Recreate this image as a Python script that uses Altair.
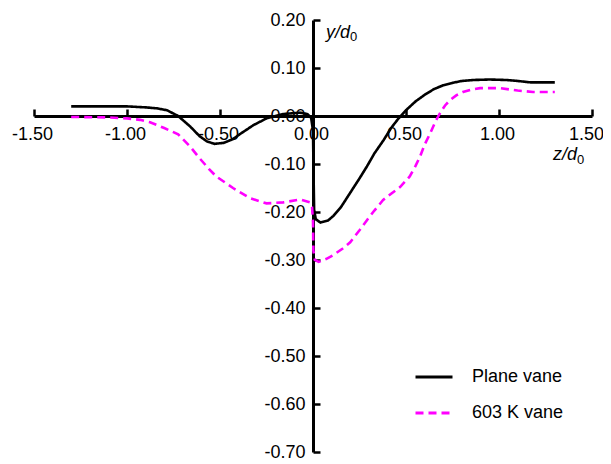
import altair as alt
import pandas as pd

series_names = ["Plane vane", "603 K vane"]

plane_z = [-1.30, -1.10, -1.00, -0.90, -0.84, -0.785, -0.725, -0.66, -0.61, -0.57, -0.53, -0.48, -0.43,
           -0.39, -0.32, -0.25, -0.16, -0.07, -0.03, -0.01, 0.0, 0.003, 0.006, 0.015, 0.04, 0.08, 0.11,
           0.15, 0.20, 0.25, 0.29, 0.33, 0.38, 0.42, 0.46, 0.50, 0.55, 0.60, 0.65, 0.70, 0.75, 0.80,
           0.86, 0.95, 1.04, 1.10, 1.17, 1.24, 1.30]
plane_y = [0.020, 0.020, 0.020, 0.018, 0.016, 0.012, 0.000, -0.022, -0.042, -0.053, -0.058, -0.056, -0.048,
           -0.037, -0.019, -0.005, 0.004, 0.007, 0.004, -0.004, -0.030, -0.120, -0.195, -0.215, -0.222, -0.218, -0.208,
           -0.190, -0.160, -0.130, -0.105, -0.078, -0.050, -0.025, -0.005, 0.012, 0.030, 0.044, 0.056, 0.064, 0.069, 0.073,
           0.075, 0.076, 0.075, 0.073, 0.070, 0.070, 0.070]

k603_z = [-1.30, -1.10, -1.00, -0.93, -0.876, -0.80, -0.725, -0.66, -0.61, -0.56, -0.52, -0.43, -0.34, -0.25,
          -0.16, -0.07, -0.016, -0.005, 0.0, 0.002, 0.01, 0.03, 0.07, 0.108, 0.16, 0.20, 0.25, 0.29, 0.33,
          0.377, 0.42, 0.468, 0.52, 0.55, 0.575, 0.60, 0.63, 0.66, 0.683, 0.71, 0.737, 0.77, 0.806, 0.85,
          0.898, 1.005, 1.10, 1.183, 1.30]
k603_y = [-0.002, -0.003, -0.005, -0.008, -0.013, -0.025, -0.038, -0.064, -0.088, -0.110, -0.126, -0.150, -0.171, -0.182,
          -0.180, -0.174, -0.180, -0.190, -0.220, -0.280, -0.300, -0.304, -0.298, -0.290, -0.276, -0.263, -0.238, -0.217, -0.197,
          -0.175, -0.162, -0.148, -0.126, -0.105, -0.085, -0.060, -0.036, -0.010, 0.006, 0.022, 0.033, 0.043, 0.050, 0.055,
          0.058, 0.058, 0.053, 0.050, 0.050]

x_ticks = [-1.5, -1.0, -0.5, 0.0, 0.5, 1.0, 1.5]
y_ticks = [-0.7, -0.6, -0.5, -0.4, -0.3, -0.2, -0.1, 0.0, 0.1, 0.2]

rows = []
for name, zs, ys in [(series_names[0], plane_z, plane_y), (series_names[1], k603_z, k603_y)]:
    for i, (z, y) in enumerate(zip(zs, ys)):
        rows.append({"series": name, "z": z, "y": y, "i": i})
df = pd.DataFrame(rows)

# axis title annotations (main italic part and subscript)
titles_main = pd.DataFrame({"text": ["y/d", "z/d"], "z": [0.07, 1.29], "y": [0.1625, -0.092]})
titles_sub = pd.DataFrame({"text": ["0", "0"], "z": [0.199, 1.42], "y": [0.156, -0.100]})

FONT = "Liberation Sans"
W, H = 558, 432
xdom = [-1.5, 1.5]
ydom = [-0.7, 0.2]
x0_px = W * (0 - xdom[0]) / (xdom[1] - xdom[0])          # pixel of z=0
y0_px = H * (ydom[1] - 0) / (ydom[1] - ydom[0])          # pixel of y=0

xscale = alt.Scale(domain=xdom, nice=False, zero=False)
yscale = alt.Scale(domain=ydom, nice=False, zero=False)
label_expr = "replace(format(datum.value, '.2f'), '−', '-')"

legend_opts = dict(title=None, orient="none", legendX=380, legendY=337, symbolType="stroke",
                   symbolSize=1369, symbolStrokeWidth=3, labelFontSize=18, labelFont=FONT,
                   labelColor="black", labelOffset=18, rowPadding=7, padding=0)

lines = alt.Chart(df).mark_line(strokeWidth=2.6).encode(
    x=alt.X("z:Q", scale=xscale, title="",
            axis=alt.Axis(orient="bottom", values=x_ticks, labelExpr=label_expr, domain=False, ticks=False,
                          grid=False, offset=-(H - y0_px), labelPadding=9, labelFontSize=18, labelFont=FONT,
                          labelColor="black", labelFlush=False, labelOverlap=False,
                          labelOffset=alt.condition("datum.value >= 1.4", alt.value(-6), alt.value(-2)))),
    y=alt.Y("y:Q", scale=yscale, title="",
            axis=alt.Axis(orient="left", values=y_ticks, labelExpr=label_expr, domain=False, ticks=False,
                          grid=False, offset=-x0_px, labelPadding=8, labelFontSize=18, labelFont=FONT,
                          labelColor="black", labelOverlap=False, labelFlush=False)),
    color=alt.Color("series:N", scale=alt.Scale(domain=series_names, range=["#000000", "#ff00ff"]),
                    legend=alt.Legend(**legend_opts)),
    strokeDash=alt.StrokeDash("series:N", scale=alt.Scale(domain=series_names, range=[[1, 0], [8, 5]]),
                              legend=alt.Legend(**legend_opts)),
    order=alt.Order("i:Q"),
)

title_main = alt.Chart(titles_main).mark_text(
    font=FONT, fontSize=18, fontStyle="italic", align="left", baseline="alphabetic", color="black"
).encode(
    x=alt.X("z:Q", scale=xscale, title="",
            axis=alt.Axis(orient="top", values=x_ticks, labels=False, ticks=True, tickSize=7, tickWidth=2.5,
                          tickColor="black", domain=True, domainWidth=3, domainColor="black", grid=False,
                          offset=-y0_px)),
    y=alt.Y("y:Q", scale=yscale, title="",
            axis=alt.Axis(orient="right", values=y_ticks, labels=False, ticks=True, tickSize=7, tickWidth=2.5,
                          tickColor="black", domain=True, domainWidth=3, domainColor="black", grid=False,
                          offset=-(W - x0_px))),
    text="text:N",
)

title_sub = alt.Chart(titles_sub).mark_text(
    font=FONT, fontSize=13, align="left", baseline="alphabetic", color="black"
).encode(
    x=alt.X("z:Q", scale=xscale, axis=None),
    y=alt.Y("y:Q", scale=yscale, axis=None),
    text="text:N",
)

chart = alt.layer(title_main, title_sub, lines).resolve_axis(
    x="independent", y="independent"
).properties(
    width=W, height=H,
    autosize=alt.AutoSizeParams(type="none"),
    padding={"left": 26, "top": 12, "right": 11, "bottom": 12},
).configure_view(strokeOpacity=0)

chart.save("out.html", embed_options={"renderer": "svg", "actions": False})
